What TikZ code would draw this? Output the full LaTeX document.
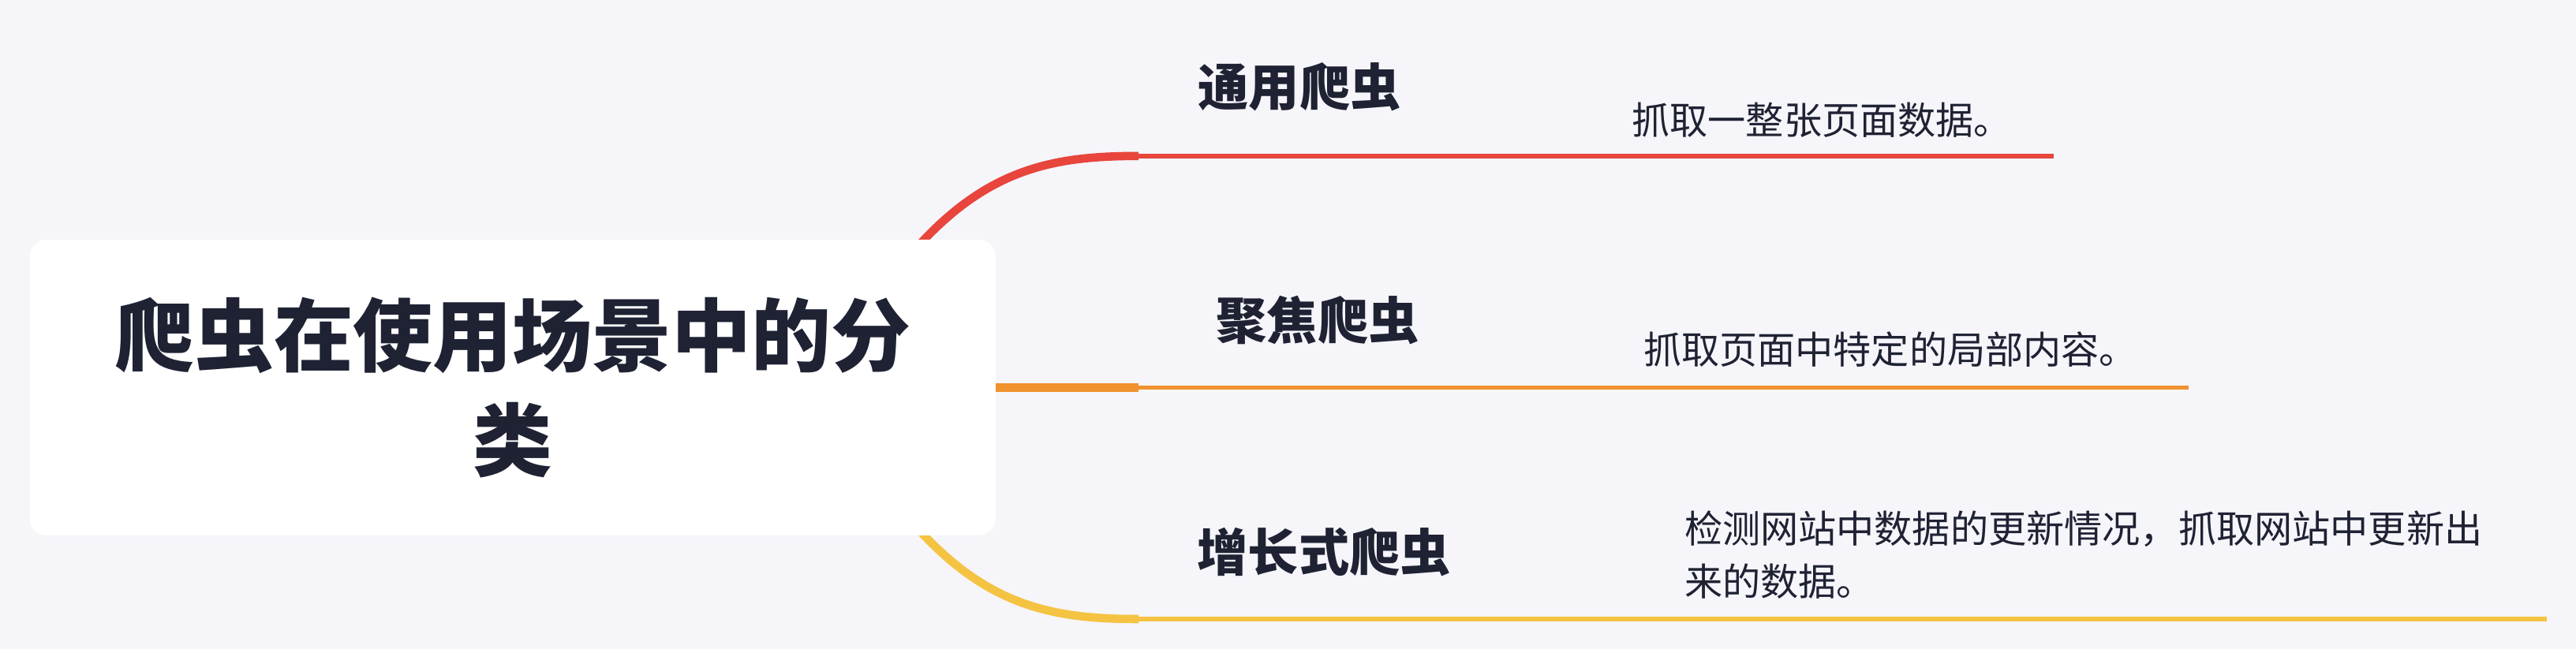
\documentclass[tikz,border=0pt]{standalone}
\usepackage{fontspec}
\setmainfont{Noto Sans CJK SC}
\usetikzlibrary{positioning}
\definecolor{bgcol}{HTML}{F5F5FA}
\definecolor{inkcol}{HTML}{1F2233}
\definecolor{redcol}{HTML}{E8453C}
\definecolor{orangecol}{HTML}{F0922E}
\definecolor{yellowcol}{HTML}{F5C342}
\begin{document}
\begin{tikzpicture}[
    x=0.2082mm, y=-0.2082mm,
    font=\fontsize{12}{15}\selectfont, text=inkcol,
    root/.style={rectangle, rounded corners=6pt, fill=white, minimum width=122.4mm, minimum height=37.5mm, align=center, font=\fontsize{28.7}{38}\selectfont\bfseries},
    topic/.style={font=\fontsize{18.3}{22}\selectfont\bfseries, inner sep=0pt},
    desc/.style={anchor=west, align=left, inner sep=0pt, font=\fontsize{13.7}{19}\selectfont},
    branch/.style={line width=3pt},
    underline/.style={line width=1.6pt}
  ]

  % background
  \fill[bgcol] (0,0) rectangle (1568,395);

  % branch ends
  \coordinate (b1) at (693,95);
  \coordinate (b2) at (693,236);
  \coordinate (b3) at (693,377);
  \coordinate (e1) at (1250,95);
  \coordinate (e2) at (1332,236);
  \coordinate (e3) at (1550,377);

  % curves from the root
  \draw[branch, redcol] (500,236) .. controls (570,110) and (620,95) .. (b1);
  \draw[branch, orangecol] (500,236) -- (b2);
  \draw[branch, yellowcol] (500,236) .. controls (570,362) and (620,377) .. (b3);

  % underlines
  \draw[underline, redcol] (b1) -- (e1);
  \draw[underline, orangecol] (b2) -- (e2);
  \draw[underline, yellowcol] (b3) -- (e3);

  % root
  \node[root] (root) at (312,236) {爬虫在使用场景中的分\\类};

  % topics
  \node[topic] (t1) at (791,53) {通用爬虫};
  \node[topic] (t2) at (802,195) {聚焦爬虫};
  \node[topic] (t3) at (806,336) {增长式爬虫};

  % descriptions
  \node[desc] (d1) at (993,73) {抓取一整张页面数据。};
  \node[desc] (d2) at (1000,213) {抓取页面中特定的局部内容。};
  \node[desc] (d3) at (1025,338) {检测网站中数据的更新情况，抓取网站中更新出\\来的数据。};
\end{tikzpicture}
\end{document}
